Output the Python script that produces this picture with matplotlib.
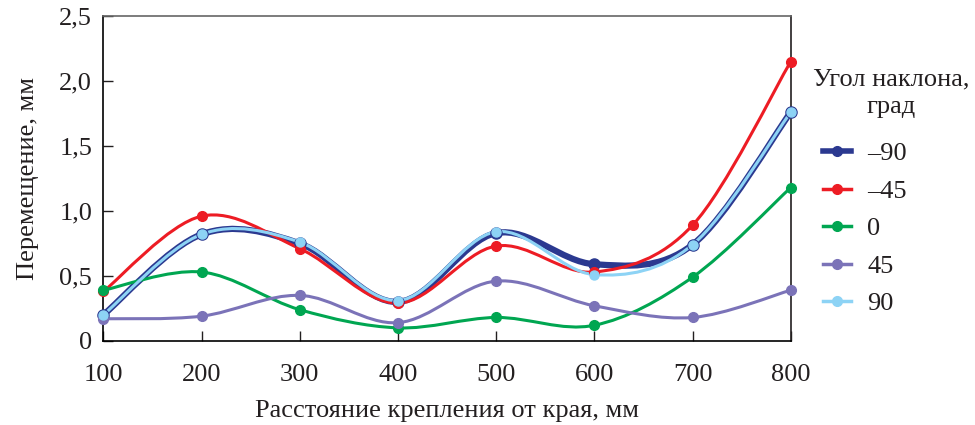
import matplotlib
matplotlib.use('Agg')
import matplotlib.pyplot as plt
from matplotlib.path import Path
from matplotlib.patches import PathPatch
from matplotlib.lines import Line2D
import matplotlib.ticker as mtick

plt.rcParams['font.family'] = ['Liberation Serif', 'DejaVu Serif']

distance = [100, 200, 300, 400, 500, 600, 700, 800]
angle_labels = ['\u201390', '\u201345', '0', '45', '90']
disp_m90 = [0.20, 0.82, 0.75, 0.30, 0.83, 0.59, 0.74, 1.76]
disp_m45 = [0.38, 0.96, 0.71, 0.29, 0.73, 0.53, 0.89, 2.15]
disp_0 = [0.39, 0.53, 0.24, 0.10, 0.18, 0.12, 0.49, 1.18]
disp_45 = [0.17, 0.19, 0.35, 0.14, 0.46, 0.27, 0.18, 0.39]
disp_90 = [0.20, 0.82, 0.76, 0.31, 0.84, 0.51, 0.74, 1.76]


def smooth_path(xs, ys):
    # Excel-like smoothed line: cubic Bezier segments through the points
    pts = list(zip(xs, ys))
    verts = [pts[0]]
    codes = [Path.MOVETO]
    n = len(pts)
    for i in range(n - 1):
        p0 = pts[i - 1] if i > 0 else pts[i]
        p1 = pts[i]
        p2 = pts[i + 1]
        p3 = pts[i + 2] if i + 2 < n else pts[i + 1]
        c1 = (p1[0] + (p2[0] - p0[0]) / 6, p1[1] + (p2[1] - p0[1]) / 6)
        c2 = (p2[0] - (p3[0] - p1[0]) / 6, p2[1] - (p3[1] - p1[1]) / 6)
        verts += [c1, c2, p2]
        codes += [Path.CURVE4] * 3
    return Path(verts, codes)


fig = plt.figure(figsize=(9.75, 4.25), dpi=100)
ax = fig.add_axes([0.106, 0.198, 0.705, 0.764])

series = [
    (disp_m90, '#2b3990', 4.5, 8, '#2b3990'),
    (disp_m45, '#ed1c24', 2.2, 7, '#ed1c24'),
    (disp_0, '#00a651', 2.2, 7, '#00a651'),
    (disp_45, '#7b73b8', 2.2, 7, '#7b73b8'),
    (disp_90, '#8dd3f5', 2.2, 6.5, '#8dd3f5'),
]
order = [3, 2, 1, 0, 4]
handles = []
for k in order:
    ys, col, lw, ms, mcol = series[k]
    patch = PathPatch(smooth_path(distance, ys), facecolor='none', edgecolor=col,
                      lw=lw, capstyle='round', joinstyle='round', zorder=2 + k * 0.1)
    ax.add_patch(patch)
    ax.plot(distance, ys, ls='none', marker='o', ms=ms, color=mcol,
            mec=mcol, zorder=3 + k * 0.1, clip_on=False)

for k in range(5):
    ys, col, lw, ms, mcol = series[k]
    handles.append(Line2D([], [], color=col, lw=4 if k == 0 else 2.5,
                          marker='o', ms=7, mec=mcol, mfc=mcol))

ax.set_xlim(100, 800)
ax.set_ylim(0, 2.5)
ax.set_xticks(distance)
ax.set_yticks([0, 0.5, 1.0, 1.5, 2.0, 2.5])
ax.yaxis.set_major_formatter(mtick.FuncFormatter(
    lambda v, p: '0' if v == 0 else ('%.1f' % v).replace('.', ',')))
ax.tick_params(direction='in', length=7, width=1, labelsize=19, pad=8,
               colors='#231f20')
ax.tick_params(axis='x', pad=17)
ax.spines['top'].set_color('#666666')
ax.spines['right'].set_color('#231f20')
for s in ax.spines.values():
    s.set_linewidth(1.2)

ax.set_xlabel('Расстояние крепления от края, мм', fontsize=19, color='#231f20',
              labelpad=10)
ax.set_ylabel('Перемещение, мм', fontsize=19, color='#231f20', labelpad=15)

fig.text(891 / 975, 1 - 93 / 425, 'Угол наклона,\nград', fontsize=19,
         color='#231f20', ha='center', va='center', multialignment='center',
         linespacing=1.35)
leg = fig.legend(handles, angle_labels, loc='upper left',
                 bbox_to_anchor=(823 / 975, 1 - 142 / 425), frameon=False,
                 fontsize=19, handlelength=1.05, borderpad=0, borderaxespad=0,
                 labelspacing=0.53, handletextpad=0.62, labelcolor='#231f20')

fig.savefig('out.png', dpi=100)
